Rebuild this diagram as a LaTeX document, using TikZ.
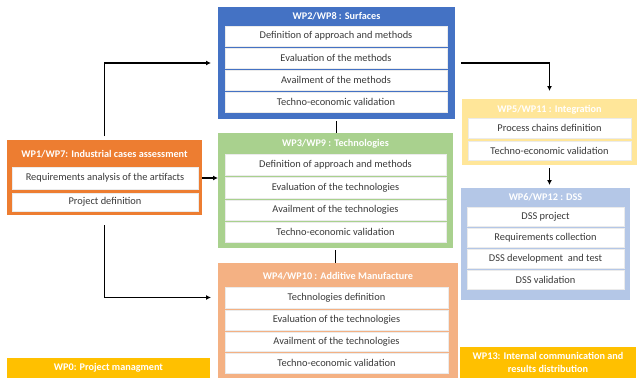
\documentclass[tikz,border=0pt]{standalone}
\usepackage{fontspec}
\setmainfont{Carlito}
\usetikzlibrary{arrows.meta}
\definecolor{cblue}{HTML}{4472C4}
\definecolor{cgreen}{HTML}{A9D18E}
\definecolor{corange}{HTML}{ED7D31}
\definecolor{clorange}{HTML}{F4B183}
\definecolor{cyellow}{HTML}{FFE699}
\definecolor{cdss}{HTML}{B4C7E7}
\definecolor{cgold}{HTML}{FFC000}
\definecolor{ctext}{HTML}{3A3A3A}
\newcommand\rbox[7]{\node[#2,anchor=north west,minimum width={#5-#3},minimum height={#6-#4}] (#1) at (#3,#4) {#7};}
\begin{document}
\begin{tikzpicture}[x=1pt,y=-1pt,
  font=\fontsize{10.4}{12}\selectfont,
  panel/.style={inner sep=0pt,outer sep=0pt},
  row/.style={fill=white,draw=black!8,line width=0.4pt,inner sep=0pt,outer sep=0pt,text=ctext},
  title/.style={text=white,inner sep=0pt,font=\fontsize{10.2}{12}\selectfont\bfseries},
  conn/.style={line width=1.4pt,black},
  arr/.style={conn,-{Latex[length=5pt,width=5pt]}}]
\useasboundingbox[fill=white] (0,0) rectangle (638,378);

% WP2 blue
\rbox{wp2}{panel,fill=cblue}{218}{7}{455}{119}{}
\node[title] (wp2t) at (336.5,16.5) {WP2/WP8 : Surfaces};
\rbox{wp2r1}{row}{225}{26}{447}{46}{Definition of approach and methods}
\rbox{wp2r2}{row}{225}{48}{447}{68}{Evaluation of the methods}
\rbox{wp2r3}{row}{225}{70}{447}{90}{Availment of the methods}
\rbox{wp2r4}{row}{225}{92}{447}{112}{Techno-economic validation}

% WP3 green
\rbox{wp3}{panel,fill=cgreen}{218}{133}{453}{248}{}
\node[title] (wp3t) at (335.5,143.5) {WP3/WP9 : Technologies};
\rbox{wp3r1}{row}{225}{154}{446}{175}{Definition of approach and methods}
\rbox{wp3r2}{row}{225}{177}{446}{198}{Evaluation of the technologies}
\rbox{wp3r3}{row}{225}{200}{446}{220}{Availment of the technologies}
\rbox{wp3r4}{row}{225}{222}{446}{242}{Techno-economic validation}

% WP4 light orange
\rbox{wp4}{panel,fill=clorange}{218}{263}{458}{378}{}
\node[title] (wp4t) at (338,276) {WP4/WP10 : Additive Manufacture};
\rbox{wp4r1}{row}{225}{287}{448}{308}{Technologies definition}
\rbox{wp4r2}{row}{225}{310}{448}{330}{Evaluation of the technologies}
\rbox{wp4r3}{row}{225}{332}{448}{351}{Availment of the technologies}
\rbox{wp4r4}{row}{225}{353}{448}{373}{Techno-economic validation}

% WP1 orange
\rbox{wp1}{panel,fill=corange}{7}{140}{202}{215}{}
\node[title] (wp1t) at (104.5,154) {WP1/WP7: Industrial cases assessment};
\rbox{wp1r1}{row}{12}{167}{198}{189}{Requirements analysis of the artifacts}
\rbox{wp1r2}{row}{12}{193}{198}{211}{Project definition}

% WP5 yellow
\rbox{wp5}{panel,fill=cyellow}{462}{99}{637}{165}{}
\node[title] (wp5t) at (549.5,110) {WP5/WP11 : Integration};
\rbox{wp5r1}{row}{468}{118}{631}{138}{Process chains definition}
\rbox{wp5r2}{row}{468}{141}{631}{160}{Techno-economic validation}

% WP6 DSS
\rbox{wp6}{panel,fill=cdss}{461}{188}{630}{300}{}
\node[title] (wp6t) at (545.5,197) {WP6/WP12 : DSS};
\rbox{wp6r1}{row}{467}{207}{624}{226}{DSS project}
\rbox{wp6r2}{row}{467}{228}{624}{247}{Requirements collection}
\rbox{wp6r3}{row}{467}{249}{624}{268}{DSS development\ \ and test}
\rbox{wp6r4}{row}{467}{270}{624}{289}{DSS validation}

% WP0 and WP13
\rbox{wp0}{panel,fill=cgold,text=white,font=\fontsize{10.2}{12}\selectfont\bfseries}{7}{358}{210}{378}{WP0: Project managment}
\rbox{wp13}{panel,fill=cgold,text=white,align=center,font=\fontsize{10.2}{13.5}\selectfont\bfseries}{460}{347}{636}{378}{WP13: Internal communication and\\results distribution}

% connectors
\coordinate (wp4in) at (wp4.west |- wp4r1.west);
\draw[arr,shorten <=4pt,shorten >=7pt] (wp1.north) |- (wp2.west);
\draw[arr,shorten <=10pt,shorten >=7pt] (wp1.south) |- (wp4in);
\draw[arr] (wp1.east |- wp1r1.east) -- (wp3.west |- wp1r1.east);
\draw[conn,shorten <=2pt] (wp2.south) -- (wp2.south |- wp3.north);
\draw[conn,shorten <=2pt] (wp3.south) -- (wp3.south |- wp4.north);
\draw[arr,shorten <=6pt,shorten >=8pt] (wp2.east) -| (wp5.north);
\draw[arr,shorten <=3pt,shorten >=3pt] (wp5.south) -- (wp5.south |- wp6.north);
\end{tikzpicture}
\end{document}
